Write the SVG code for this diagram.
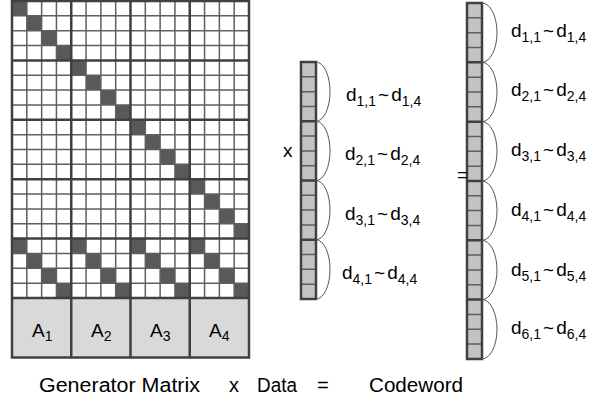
<svg xmlns="http://www.w3.org/2000/svg" width="595" height="402" viewBox="0 0 595 402">
<style>
.thin{fill:none;stroke:#5f5f5f;stroke-width:1.5;vector-effect:non-scaling-stroke}
.thick{fill:none;stroke:#404040;stroke-width:2.5;vector-effect:non-scaling-stroke}
.dk{fill:#595959}
.vc{fill:#c3c3c3}
.ab{fill:#d9d9d9}
.brace{fill:none;stroke:#555;stroke-width:1}
text{font-family:"Liberation Sans",Arial,sans-serif;fill:#000}
.lbl{font-size:19px}
.sub{font-size:14px}
.big{font-size:20px}
</style>
<rect width="595" height="402" fill="#fff"/>
<g id="generator-matrix">
<g transform="translate(12,1) scale(14.8125,14.85)">
<rect x="0" y="0" width="16" height="20" fill="#fff"/>
<rect x="0" y="20" width="16" height="4" class="ab"/>
<rect x="0" y="0" width="1" height="1" class="dk"/><rect x="1" y="1" width="1" height="1" class="dk"/><rect x="2" y="2" width="1" height="1" class="dk"/><rect x="3" y="3" width="1" height="1" class="dk"/>
<rect x="4" y="4" width="1" height="1" class="dk"/><rect x="5" y="5" width="1" height="1" class="dk"/><rect x="6" y="6" width="1" height="1" class="dk"/><rect x="7" y="7" width="1" height="1" class="dk"/>
<rect x="8" y="8" width="1" height="1" class="dk"/><rect x="9" y="9" width="1" height="1" class="dk"/><rect x="10" y="10" width="1" height="1" class="dk"/><rect x="11" y="11" width="1" height="1" class="dk"/>
<rect x="12" y="12" width="1" height="1" class="dk"/><rect x="13" y="13" width="1" height="1" class="dk"/><rect x="14" y="14" width="1" height="1" class="dk"/><rect x="15" y="15" width="1" height="1" class="dk"/>
<rect x="0" y="16" width="1" height="1" class="dk"/><rect x="1" y="17" width="1" height="1" class="dk"/><rect x="2" y="18" width="1" height="1" class="dk"/><rect x="3" y="19" width="1" height="1" class="dk"/>
<rect x="4" y="16" width="1" height="1" class="dk"/><rect x="5" y="17" width="1" height="1" class="dk"/><rect x="6" y="18" width="1" height="1" class="dk"/><rect x="7" y="19" width="1" height="1" class="dk"/>
<rect x="8" y="16" width="1" height="1" class="dk"/><rect x="9" y="17" width="1" height="1" class="dk"/><rect x="10" y="18" width="1" height="1" class="dk"/><rect x="11" y="19" width="1" height="1" class="dk"/>
<rect x="12" y="16" width="1" height="1" class="dk"/><rect x="13" y="17" width="1" height="1" class="dk"/><rect x="14" y="18" width="1" height="1" class="dk"/><rect x="15" y="19" width="1" height="1" class="dk"/>
<path class="thin" d="M1 0V20M2 0V20M3 0V20M5 0V20M6 0V20M7 0V20M9 0V20M10 0V20M11 0V20M13 0V20M14 0V20M15 0V20M0 1H16M0 2H16M0 3H16M0 5H16M0 6H16M0 7H16M0 9H16M0 10H16M0 11H16M0 13H16M0 14H16M0 15H16M0 17H16M0 18H16M0 19H16"/>
<path class="thick" d="M4 0V24M8 0V24M12 0V24M0 4H16M0 8H16M0 12H16M0 16H16M0 20H16"/>
<rect x="0" y="0" width="16" height="24" class="thick"/>
</g>
<text class="lbl" x="32" y="337">A<tspan class="sub" dy="4">1</tspan></text>
<text class="lbl" x="91" y="337">A<tspan class="sub" dy="4">2</tspan></text>
<text class="lbl" x="150" y="337">A<tspan class="sub" dy="4">3</tspan></text>
<text class="lbl" x="209" y="337">A<tspan class="sub" dy="4">4</tspan></text>
</g>
<g id="data-vector">
<g transform="translate(301,62) scale(15,14.8125)">
<rect x="0" y="0" width="1" height="16" class="vc"/>
<path class="thin" d="M0 1H1M0 2H1M0 3H1M0 5H1M0 6H1M0 7H1M0 9H1M0 10H1M0 11H1M0 13H1M0 14H1M0 15H1"/>
<path class="thick" d="M0 4H1M0 8H1M0 12H1"/>
<rect x="0" y="0" width="1" height="16" class="thick"/>
</g>
<path class="brace" d="M316 62A14 29.6 0 0 1 316 121.25M316 121.25A14 29.6 0 0 1 316 180.5M316 180.5A14 29.6 0 0 1 316 239.75M316 239.75A14 29.6 0 0 1 316 299"/>
<text class="lbl" x="346" y="100.5">d<tspan class="sub" dy="5">1,1</tspan><tspan dy="-5" dx="2">~</tspan><tspan dx="2">d</tspan><tspan class="sub" dy="5">1,4</tspan></text>
<text class="lbl" x="345" y="160">d<tspan class="sub" dy="5">2,1</tspan><tspan dy="-5" dx="2">~</tspan><tspan dx="2">d</tspan><tspan class="sub" dy="5">2,4</tspan></text>
<text class="lbl" x="345" y="219.5">d<tspan class="sub" dy="5">3,1</tspan><tspan dy="-5" dx="2">~</tspan><tspan dx="2">d</tspan><tspan class="sub" dy="5">3,4</tspan></text>
<text class="lbl" x="342" y="279">d<tspan class="sub" dy="5">4,1</tspan><tspan dy="-5" dx="2">~</tspan><tspan dx="2">d</tspan><tspan class="sub" dy="5">4,4</tspan></text>
</g>
<g id="codeword-vector">
<g transform="translate(467,3) scale(15,14.83)">
<rect x="0" y="0" width="1" height="24" class="vc"/>
<path class="thin" d="M0 1H1M0 2H1M0 3H1M0 5H1M0 6H1M0 7H1M0 9H1M0 10H1M0 11H1M0 13H1M0 14H1M0 15H1M0 17H1M0 18H1M0 19H1M0 21H1M0 22H1M0 23H1"/>
<path class="thick" d="M0 4H1M0 8H1M0 12H1M0 16H1M0 20H1"/>
<rect x="0" y="0" width="1" height="24" class="thick"/>
</g>
<path class="brace" d="M482 3A15 29.66 0 0 1 482 62.32M482 62.32A15 29.66 0 0 1 482 121.64M482 121.64A15 29.66 0 0 1 482 180.96M482 180.96A15 29.66 0 0 1 482 240.28M482 240.28A15 29.66 0 0 1 482 299.6M482 299.6A15 29.66 0 0 1 482 358.92"/>
<text class="lbl" x="511" y="37">d<tspan class="sub" dy="5">1,1</tspan><tspan dy="-5" dx="2">~</tspan><tspan dx="2">d</tspan><tspan class="sub" dy="5">1,4</tspan></text>
<text class="lbl" x="511" y="96">d<tspan class="sub" dy="5">2,1</tspan><tspan dy="-5" dx="2">~</tspan><tspan dx="2">d</tspan><tspan class="sub" dy="5">2,4</tspan></text>
<text class="lbl" x="511" y="156">d<tspan class="sub" dy="5">3,1</tspan><tspan dy="-5" dx="2">~</tspan><tspan dx="2">d</tspan><tspan class="sub" dy="5">3,4</tspan></text>
<text class="lbl" x="511" y="216">d<tspan class="sub" dy="5">4,1</tspan><tspan dy="-5" dx="2">~</tspan><tspan dx="2">d</tspan><tspan class="sub" dy="5">4,4</tspan></text>
<text class="lbl" x="511" y="276">d<tspan class="sub" dy="5">5,1</tspan><tspan dy="-5" dx="2">~</tspan><tspan dx="2">d</tspan><tspan class="sub" dy="5">5,4</tspan></text>
<text class="lbl" x="511" y="334">d<tspan class="sub" dy="5">6,1</tspan><tspan dy="-5" dx="2">~</tspan><tspan dx="2">d</tspan><tspan class="sub" dy="5">6,4</tspan></text>
</g>
<g id="operators">
<text class="lbl" x="283" y="157">x</text>
<text class="lbl" x="457" y="181">=</text>
</g>
<g id="captions">
<text class="big" x="39" y="392" textLength="161" lengthAdjust="spacingAndGlyphs">Generator Matrix</text>
<text class="big" x="229" y="392">x</text>
<text class="big" x="257" y="392" textLength="40" lengthAdjust="spacingAndGlyphs">Data</text>
<text class="big" x="317" y="392">=</text>
<text class="big" x="369" y="392" textLength="94" lengthAdjust="spacingAndGlyphs">Codeword</text>
</g>
</svg>
